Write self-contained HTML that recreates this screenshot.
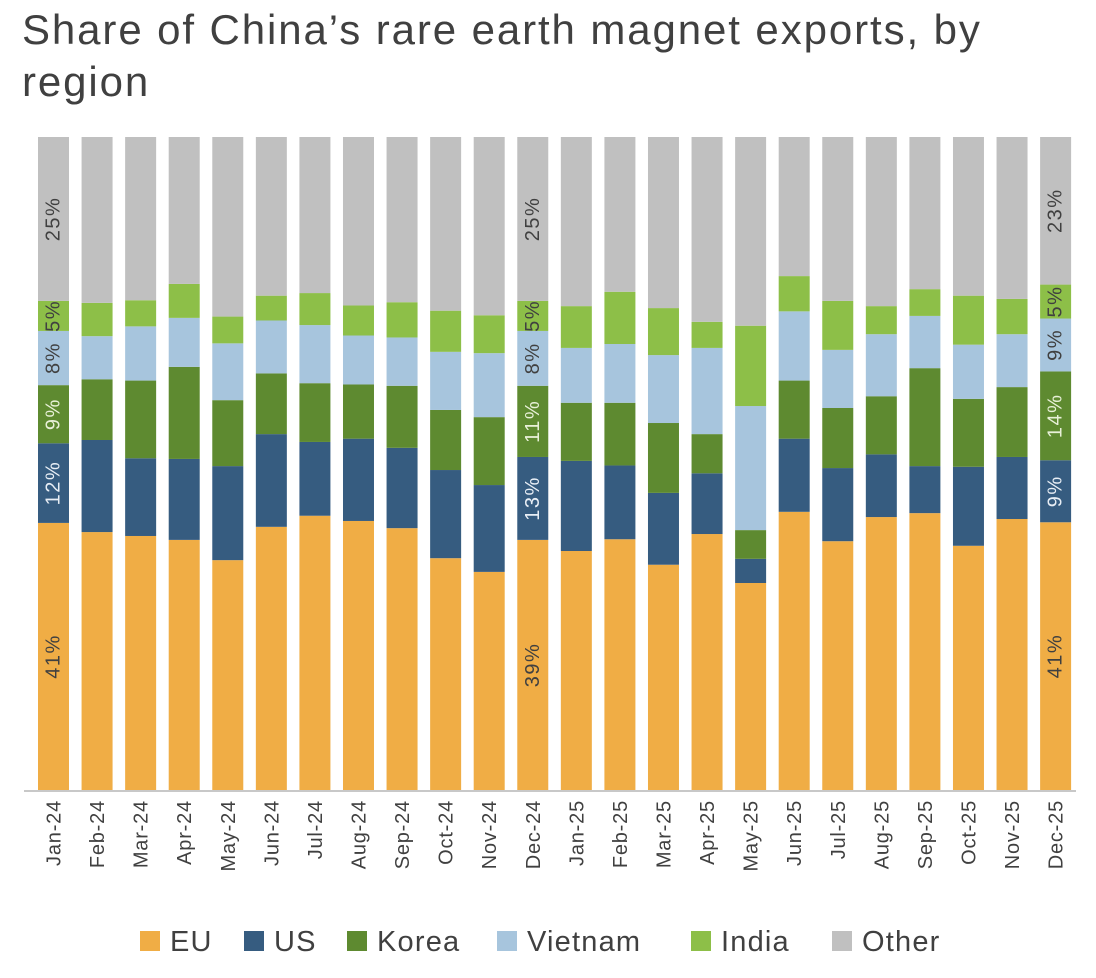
<!DOCTYPE html>
<html><head><meta charset="utf-8">
<style>
body{margin:0;background:#fff;width:1096px;height:978px;overflow:hidden;font-family:"Liberation Sans",sans-serif;}
#title{position:absolute;left:22px;top:4px;font-size:42px;line-height:52px;color:#404040;width:1060px;letter-spacing:1.9px;}
svg{position:absolute;left:0;top:0;}
</style></head><body>
<div id="title">Share of China’s rare earth magnet exports, by<br>region</div>
<svg id="chart" width="1096" height="978"></svg>
<script>
const categories=["Jan-24","Feb-24","Mar-24","Apr-24","May-24","Jun-24","Jul-24","Aug-24","Sep-24","Oct-24","Nov-24","Dec-24","Jan-25","Feb-25","Mar-25","Apr-25","May-25","Jun-25","Jul-25","Aug-25","Sep-25","Oct-25","Nov-25","Dec-25"];
const seriesNames=["EU","US","Korea","Vietnam","India","Other"];
const eu=[40.9,39.5,38.9,38.3,35.2,40.3,42.0,41.2,40.1,35.5,33.4,38.3,36.6,38.4,34.5,39.2,31.7,42.6,38.1,41.8,42.4,37.4,41.5,41.0];
const us=[12.2,14.1,11.9,12.4,14.4,14.2,11.3,12.6,12.3,13.5,13.3,12.7,13.8,11.3,11.0,9.3,3.7,11.2,11.2,9.6,7.2,12.1,9.5,9.5];
const korea=[8.9,9.3,11.9,14.1,10.1,9.3,9.0,8.3,9.5,9.2,10.4,10.9,8.9,9.6,10.7,6.0,4.4,8.9,9.2,8.9,15.0,10.4,10.7,13.6];
const vietnam=[8.3,6.6,8.3,7.5,8.7,8.1,8.9,7.5,7.4,8.9,9.8,8.4,8.4,9.0,10.4,13.2,19.0,10.6,8.9,9.5,8.0,8.3,8.1,8.1];
const india=[4.6,5.1,4.0,5.2,4.1,3.8,4.9,4.6,5.4,6.3,5.8,4.6,6.4,8.0,7.2,4.0,12.3,5.4,7.5,4.3,4.1,7.5,5.4,5.2];
const labeledIdx=[0,11,23];
const labelTexts=[["41%","12%","9%","8%","5%","25%"],["39%","13%","11%","8%","5%","25%"],["41%","9%","14%","9%","5%","23%"]];
const colors=["#F0AD45","#365C80","#5E8A30","#A7C5DD","#8DBF48","#C0C0C0"];
const labelColors=["#404040","#e8eef5","#e8f0d8","#404040","#404040","#404040"];
const NS="http://www.w3.org/2000/svg";
const svg=document.getElementById('chart');
const y0=790,y1=137,x0=38,step=43.57,bw=31;
const yS=v=>y0-(v/100)*(y0-y1);
const xS=i=>x0+i*step;
function mk(t,a){const e=document.createElementNS(NS,t);for(const k in a)e.setAttribute(k,a[k]);svg.appendChild(e);return e;}
categories.forEach((c,i)=>{
  const vals=[eu[i],us[i],korea[i],vietnam[i],india[i]];
  const sum=vals.reduce((a,b)=>a+b,0);
  vals.push(100-sum);
  let acc=0;
  vals.forEach((v,s)=>{
    const top=yS(acc+v),bot=yS(acc);
    const r=mk('rect',{x:xS(i),y:top,width:bw,height:bot-top,fill:colors[s]});
    
    
    const li=labeledIdx.indexOf(i);
    if(li>=0){
      const cx=xS(i)+bw/2,cy=(top+bot)/2;
      const t=mk('text',{x:cx,y:cy,transform:`rotate(-90 ${cx} ${cy})`,'text-anchor':'middle','dominant-baseline':'central','font-size':20,'letter-spacing':1.5,fill:labelColors[s]});
      t.textContent=labelTexts[li][s];
      
      
    }
    acc+=v;
  });
  const lx=xS(i)+bw/2+7,ly=800;
  const t=mk('text',{x:lx,y:ly,transform:`rotate(-90 ${lx} ${ly})`,'text-anchor':'end','font-size':20,'letter-spacing':0.8,fill:'#404040'});
  t.textContent=c;
  
  
});
const ax=mk('line',{x1:24,x2:1076,y1:791,y2:791,stroke:'#c8c8c8','stroke-width':2});


const lxs=[140,244,347,497,691,832];
seriesNames.forEach((n,s)=>{
  const r=mk('rect',{x:lxs[s],y:931,width:20,height:20,fill:colors[s]});
  
  
  const t=mk('text',{x:lxs[s]+30,y:951,'font-size':29,'letter-spacing':1.2,fill:'#404040'});
  t.textContent=n;
  
  
});
</script>
</body></html>
